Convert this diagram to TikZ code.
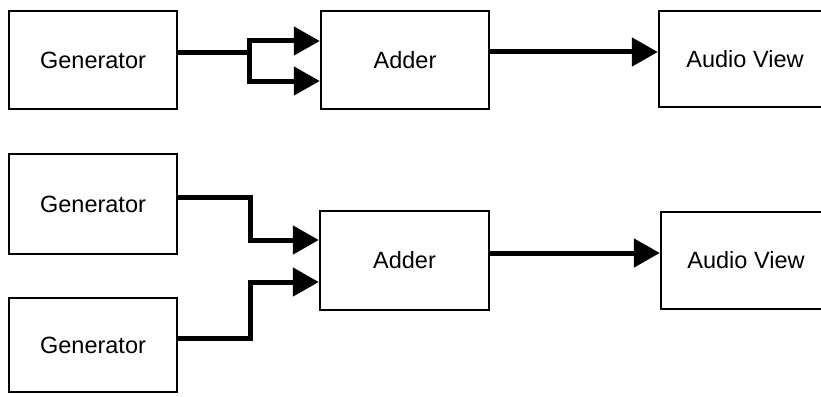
\documentclass[tikz,border=0pt]{standalone}
\usepackage{fontspec}
\setmainfont{Liberation Sans}
\usetikzlibrary{arrows.meta}
\begin{document}
\begin{tikzpicture}[x=1pt,y=-1pt,
  block/.style={draw=black,line width=2.4pt,inner sep=0pt,minimum width=168pt,
    font=\fontsize{23.5}{27}\selectfont},
  conn/.style={line width=5pt,line join=miter},
  arr/.style={conn,-{Triangle[length=26pt,width=28pt]}}]
\useasboundingbox (0,0) rectangle (821,396);
\clip (0,0) rectangle (821,396);
% top row
\node[block,minimum height=98pt] (g1) at (93,60) {Generator};
\node[block,minimum height=98pt] (a1) at (405,60) {Adder};
\node[block,minimum height=96pt,minimum width=172pt] (v1) at (745,59) {Audio View};
% bottom rows
\node[block,minimum height=100pt] (g2) at (93,204) {Generator};
\node[block,minimum height=94pt] (g3) at (93,345) {Generator};
\node[block,minimum height=99pt,minimum width=169pt] (a2) at (404.5,260.5) {Adder};
\node[block,minimum height=97pt,minimum width=170pt] (v2) at (746,260.5) {Audio View};
% helper coordinates
\coordinate (j) at (249,53);
\coordinate (ya) at (0,41);
\coordinate (yb) at (0,81);
\coordinate (yo1) at (0,52);
\coordinate (k1) at (250,197);
\coordinate (k2) at (250,338);
\coordinate (yc) at (0,240);
\coordinate (yd) at (0,282);
\coordinate (yo2) at (0,253);
% top connectors
\draw[conn] (g1.east |- j) -- (j);
\draw[arr] (j) |- (a1.west |- ya);
\draw[arr] (j) |- (a1.west |- yb);
\draw[arr] (a1.east |- yo1) -- (v1.west |- yo1);
% bottom connectors
\draw[arr] (g2.east |- k1) -- (k1) |- (a2.west |- yc);
\draw[arr] (g3.east |- k2) -- (k2) |- (a2.west |- yd);
\draw[arr] (a2.east |- yo2) -- (v2.west |- yo2);
\end{tikzpicture}
\end{document}
